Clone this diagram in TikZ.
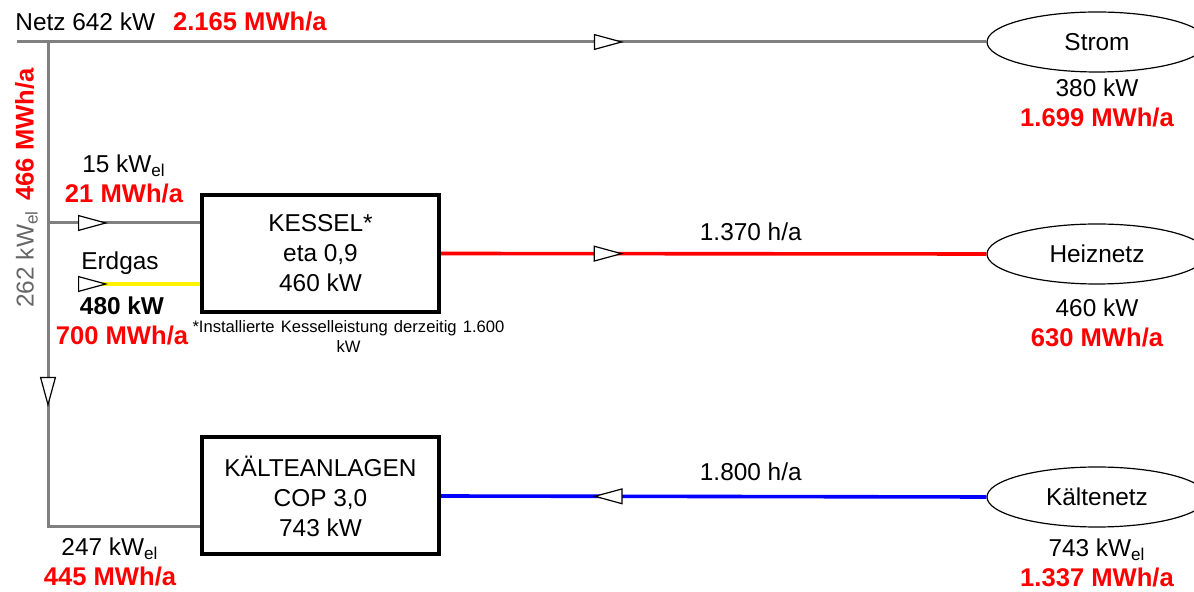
\documentclass[tikz,border=0pt]{standalone}
\usepackage{fontspec}
\setmainfont{Liberation Sans}
\usetikzlibrary{positioning,arrows.meta,shapes.geometric,decorations.markings}
\newcommand{\mwh}[1]{{\color{red}\fontsize{12.8}{15}\selectfont\bfseries #1}}

\begin{document}
\begin{tikzpicture}[x=0.5pt, y=-0.5pt,
      every node/.style={inner sep=0pt, font=\fontsize{12.2}{15}\selectfont},
      anlage/.style={draw, line width=2pt, align=center,
                     minimum width=118.5pt, minimum height=58.5pt},
      netz/.style={draw, ellipse, line width=.6pt,
                   minimum width=110pt, minimum height=30pt},
      val/.style={align=center},
      elline/.style={draw=gray, line width=1.5pt},
      heatline/.style={draw=red, line width=1.8pt},
      coldline/.style={draw=blue, line width=1.8pt},
      gasline/.style={draw=yellow, line width=1.8pt},
      flow/.style={postaction={decorate, decoration={markings,
          mark=at position #1 with {\arrow[black]{Triangle[length=15pt, width=8pt, fill=white, line width=.6pt]}}}}},
      backflow/.style={postaction={decorate, decoration={markings,
          mark=at position #1 with {\arrowreversed[black]{Triangle[length=15pt, width=8pt, fill=white, line width=.6pt]}}}}}]
    \useasboundingbox (0,0) rectangle (1194,592);
    \clip (0,0) rectangle (1194,592);
    % Verbraucher
    \node[netz]   (strom)    at (1097,42)  {Strom};
    \node[netz]   (heiz)     at (1097,254) {Heiznetz};
    \node[netz]   (kaltnetz) at (1097,497) {Kältenetz};
    % Anlagen
    \node[anlage] (kessel)   at (320.5,253.5) {KESSEL*\\ eta 0,9\\ 460 kW};
    \node[anlage] (kaelte)   at (320.5,496)   {KÄLTEANLAGEN\\ COP 3,0\\ 743 kW};
    \coordinate (netzein)    at (17,42);
    \coordinate (abzweig)    at (48,42);
    \coordinate (kesselabzw) at (48,223);
    \coordinate (ecke)       at (48,527);
    \coordinate (gasein)     at (78,284);
    % Leitungen
    \draw[elline, flow=0.626] (netzein) -- (strom.west);
    \draw[elline, flow=0.573] (abzweig) -- (ecke) -- (ecke -| kaelte.west);
    \draw[elline, flow=0.395] (kesselabzw) -- (kesselabzw -| kessel.west);
    \draw[gasline, flow=0.246] (gasein) -- (gasein -| kessel.west);
    \draw[heatline, flow=0.335] (kessel.east) -- node[pos=0.568, above=5.5pt] (hzeit) {1.370 h/a} (heiz.west);
    \draw[coldline, backflow=0.278] (kaelte.east) -- node[pos=0.568, above=7pt] (kzeit) {1.800 h/a} (kaltnetz.west);
    % Werte
    \node[anchor=base west] (netzlbl) at (15,30.5)
      {Netz 642 kW\hspace{9pt}\mwh{2.165 MWh/a}};
    \node[rotate=90, anchor=base west, text=black!60] (abzwlbl) at (33.5,308)
      {262 kW\textsubscript{el}\hspace{5pt}\mwh{466 MWh/a}};
    \node[val, anchor=north] (kesselel) at (124,154.8)
      {15 kW\textsubscript{el}\\ \mwh{21 MWh/a}};
    \node[anchor=base] (erdgas) at (120,270) {Erdgas};
    \node[val, anchor=north] (gaswert) at (122,296)
      {\bfseries 480 kW\\ \mwh{700 MWh/a}};
    \node[val, anchor=north] (kaelteel) at (110,537)
      {247 kW\textsubscript{el}\\ \mwh{445 MWh/a}};
    \node[val, anchor=north, font=\fontsize{8.3}{10}\selectfont] (fussnote) at (348.5,320)
      {\makebox[156pt][s]{*Installierte Kesselleistung derzeitig 1.600}\\ kW};
    \node[val, below=3pt of strom]    (stromwert) {380 kW\\ \mwh{1.699 MWh/a}};
    \node[val, below=7pt of heiz]     (heizwert)  {460 kW\\ \mwh{630 MWh/a}};
    \node[val, below=5.5pt of kaltnetz] (kaltwert) {743 kW\textsubscript{el}\\ \mwh{1.337 MWh/a}};
  \end{tikzpicture}
\end{document}
